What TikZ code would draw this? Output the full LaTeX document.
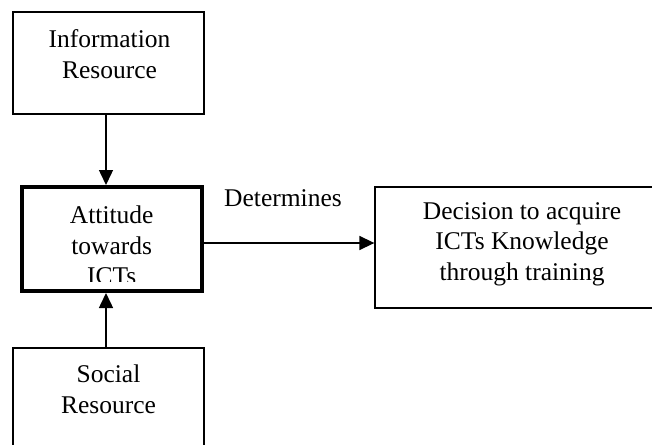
\documentclass[tikz,border=0pt]{standalone}
\usepackage{fontspec}
\setmainfont{Liberation Serif}
\usepackage{tikz}
\usetikzlibrary{arrows.meta}

\begin{document}
\begin{tikzpicture}[x=1pt, y=-1pt,
   box/.style = {shape = rectangle, draw, line width = 1.3pt, inner sep = 0pt},
   bigbox/.style = {shape = rectangle, draw, line width = 4pt, inner sep = 0pt},
   txt/.style = {align = center, inner sep = 0pt, anchor = base,
                 font = \fontsize{25.5}{30.5}\selectfont},
   arr/.style = {line width = 1.5pt, -{Triangle[length=15pt, width=14pt]}}]
   \useasboundingbox (0,0) rectangle (652,444);
   % boxes
   \node(info) at (108.5,63) [box, minimum width = 191pt, minimum height = 102pt] {};
   \node(att) at (112,239) [bigbox, minimum width = 180pt, minimum height = 104pt] {};
   \node(soc) at (108.5,404) [box, minimum width = 191pt, minimum height = 112pt] {};
   \node(dec) at (522.5,247.5) [box, minimum width = 295pt, minimum height = 121pt] {};
   % texts (base = last line)
   \node(infotext) at (109.5,78) [txt] {Information\\Resource};
   \begin{scope}
      \clip (24,189) rectangle (200,281);
      \node(atttext) at (111.7,284.5) [txt] {Attitude\\towards\\ICTs};
   \end{scope}
   \node(soctext) at (108.5,413) [txt] {Social\\Resource};
   \node(dectext) at (522,280) [txt] {Decision to acquire\\ICTs Knowledge\\through training};
   \node(detlabel) at (283,206) [txt] {Determines};
   % arrows
   \draw [arr] ([xshift=-2.5]info.south) to ([xshift=-2.5]info.south |- att.north) ;
   \draw [arr] ([xshift=-2.5]soc.north) to ([xshift=-2.5]soc.north |- att.south) ;
   \draw [arr] ([yshift=-4]att.east) to ([yshift=-4]att.east -| dec.west) ;
\end{tikzpicture}
\end{document}
